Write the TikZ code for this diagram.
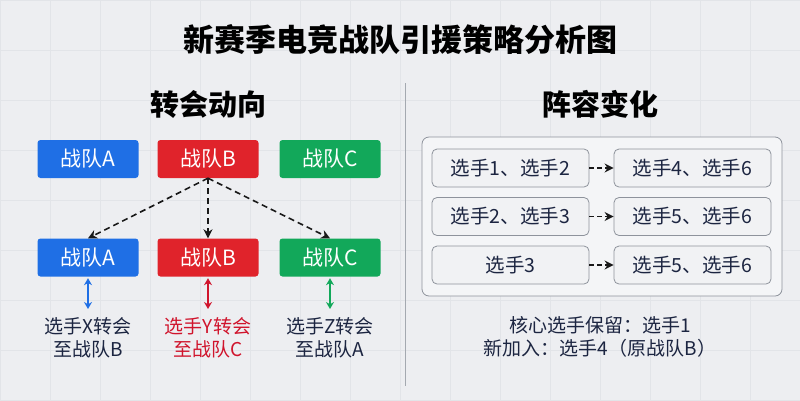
\documentclass[tikz,border=0pt]{standalone}
\usepackage{fontspec}
\setmainfont{Noto Sans CJK SC}
\usetikzlibrary{arrows.meta}
\definecolor{bgc}{HTML}{EDEEF1}
\definecolor{gridc}{HTML}{E2E4E8}
\definecolor{cblue}{HTML}{1F6FE5}
\definecolor{cred}{HTML}{E0232B}
\definecolor{cgreen}{HTML}{12A85A}
\definecolor{navy}{HTML}{1C2541}
\definecolor{tred}{HTML}{D0142C}
\definecolor{bordc}{HTML}{8E939C}
\definecolor{boxf}{HTML}{F1F2F4}
\tikzset{
  team/.style={rounded corners=3pt, minimum width=101pt, minimum height=38pt, text=white, font=\fontsize{21}{23}\selectfont, inner sep=0pt},
  pbox/.style={draw=bordc, fill=boxf, rounded corners=5pt, line width=0.8pt, minimum width=157pt, minimum height=38pt, text=navy, font=\fontsize{19.5}{21}\selectfont, inner sep=0pt},
  dasharr/.style={dash pattern=on 6pt off 4pt, line width=1.6pt, -{Stealth[length=9pt,width=9pt]}, black!90},
  dbl/.style={line width=1.5pt, {Stealth[length=7pt,width=8pt]}-{Stealth[length=7pt,width=8pt]}},
  lab/.style={font=\fontsize{19}{23}\selectfont, align=center, text=navy},
}
\begin{document}
\begin{tikzpicture}[x=1pt,y=-1pt]
\fill[bgc] (0,0) rectangle (800,400);
\useasboundingbox (0,0) rectangle (800,400);
\draw[gridc, line width=0.5pt, step=50pt] (0,0) grid (800,400);
\node[font=\fontsize{31}{33}\selectfont\bfseries, text=black] (title) at (400,39) {新赛季电竞战队引援策略分析图};
\node[font=\fontsize{29}{31}\selectfont\bfseries, text=black] (h1) at (208,104) {转会动向};
\node[font=\fontsize{29}{31}\selectfont\bfseries, text=black] (h2) at (600,104) {阵容变化};
\coordinate (dv1) at (405,83);
\coordinate (dv2) at (405,386);
\draw[bordc!80!white, line width=1pt] (dv1) -- (dv2);
% top row
\node[team, fill=cblue] (a1) at (88,159) {战队A};
\node[team, fill=cred] (b1) at (208,159) {战队B};
\node[team, fill=cgreen] (c1) at (330,159) {战队C};
% second row
\node[team, fill=cblue] (a2) at (88,257.5) {战队A};
\node[team, fill=cred] (b2) at (208,257.5) {战队B};
\node[team, fill=cgreen] (c2) at (330,257.5) {战队C};
\draw[dasharr] (b1.south) -- (a2.north);
\draw[dasharr] (b1.south) -- (b2.north);
\draw[dasharr] (b1.south) -- (c2.north);
% labels
\node[lab] (la) at (88,338) {选手X转会\\至战队B};
\node[lab, text=tred] (lb) at (208,338) {选手Y转会\\至战队C};
\node[lab] (lc) at (330,338) {选手Z转会\\至战队A};
\coordinate (ea) at (88,309);
\coordinate (eb) at (208,309);
\coordinate (ec) at (330,309);
\draw[dbl, cblue] ([yshift=-1.5pt]a2.south) -- (ea);
\draw[dbl, tred] ([yshift=-1.5pt]b2.south) -- (eb);
\draw[dbl, cgreen] ([yshift=-1.5pt]c2.south) -- (ec);
% right panel
\node[draw=bordc, rounded corners=7pt, line width=0.8pt, fill=bgc!60!white, minimum width=360pt, minimum height=159pt, inner sep=0pt] (panel) at (602,216.5) {};
\node[pbox] (p1) at (510.5,168) {选手1、选手2};
\node[pbox] (p2) at (510.5,216.5) {选手2、选手3};
\node[pbox] (p3) at (510.5,265) {选手3};
\node[pbox] (q1) at (692.5,168) {选手4、选手6};
\node[pbox] (q2) at (692.5,216.5) {选手5、选手6};
\node[pbox] (q3) at (692.5,265) {选手5、选手6};
\draw[dasharr, dash pattern=on 5pt off 3pt] (p1) -- (q1);
\draw[dasharr, dash pattern=on 5pt off 3pt] (p2) -- (q2);
\draw[dasharr, dash pattern=on 5pt off 3pt] (p3) -- (q3);
\node[lab] (note) at (600,337) {核心选手保留：选手1\\新加入：选手4（原战队B）};
\end{tikzpicture}
\end{document}
